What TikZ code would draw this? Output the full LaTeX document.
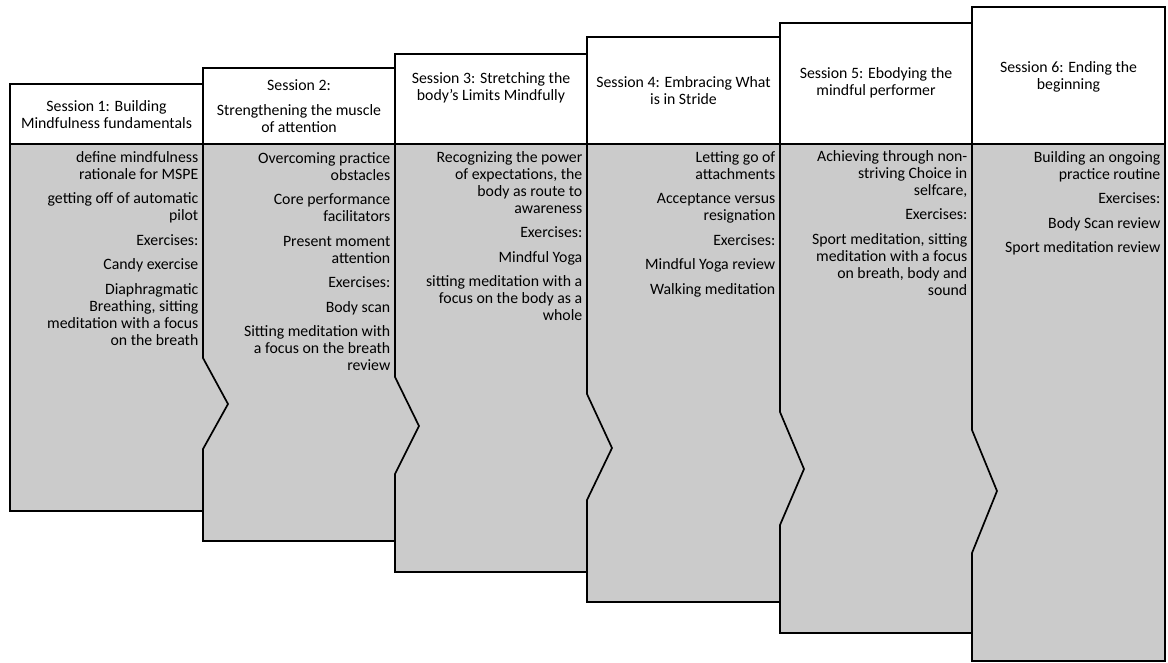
\documentclass[tikz,border=0pt]{standalone}
\usepackage{fontspec}
\setmainfont{Carlito}
\definecolor{bodygray}{RGB}{203,203,203}
\newcommand{\firstht}{\rule{0pt}{12pt}}
\begin{document}
\begin{tikzpicture}[x=1pt,y=-1pt,
  bodyshape/.style={fill=bodygray,draw=black,line width=1.7pt,line join=miter},
  hdrbox/.style={fill=white,draw=black,line width=2.3pt},
  hdrtext/.style={anchor=north,align=center,inner sep=0pt,font=\fontsize{15.8}{17}\selectfont},
  bodytext/.style={anchor=north east,align=right,inner sep=0pt,font=\fontsize{15.8}{17}\selectfont},
]
\useasboundingbox (0,0) rectangle (1168,662);
% bodies, drawn from last to first so that each tip lies on top
\path[bodyshape] (972,144) -- (1165,144) -- (1165,661) -- (972,661) -- cycle;
\path[bodyshape] (780,144) -- (972,144) -- (972,430) -- (997,491) -- (972,553) -- (972,633) -- (780,633) -- cycle;
\path[bodyshape] (587,144) -- (780,144) -- (780,412) -- (804,469) -- (780,525) -- (780,602) -- (587,602) -- cycle;
\path[bodyshape] (395,144) -- (587,144) -- (587,394) -- (612,448) -- (587,500) -- (587,572) -- (395,572) -- cycle;
\path[bodyshape] (203,144) -- (395,144) -- (395,377) -- (419,426) -- (395,474) -- (395,541) -- (203,541) -- cycle;
\path[bodyshape] (10,144) -- (203,144) -- (203,358) -- (228,404) -- (203,449) -- (203,511) -- (10,511) -- cycle;
% headers
\path[hdrbox] (10,84) rectangle (203,144);
\path[hdrbox] (203,68) rectangle (395,144);
\path[hdrbox] (395,54) rectangle (587,144);
\path[hdrbox] (587,37) rectangle (780,144);
\path[hdrbox] (780,23) rectangle (972,144);
\path[hdrbox] (972,7) rectangle (1165,144);
% header texts (first baseline = y + 12)
\node[hdrtext] (h1) at (106.5,99) {\firstht Session 1: Building\\Mindfulness fundamentals};
\node[hdrtext] (h2) at (299,78) {\firstht Session 2:\\[8pt]Strengthening the muscle\\of attention};
\node[hdrtext] (h3) at (491,71) {\firstht Session 3: Stretching the\\body’s Limits Mindfully};
\node[hdrtext] (h4) at (683.5,75) {\firstht Session 4: Embracing What\\is in Stride};
\node[hdrtext] (h5) at (876,66) {\firstht Session 5: Ebodying the\\mindful performer};
\node[hdrtext] (h6) at (1068.5,60) {\firstht Session 6: Ending the\\beginning};
% body texts (first baseline = y + 12)
\node[bodytext] (b1) at (198.5,150) {\firstht define mindfulness\\rationale for MSPE\\[7.5pt]getting off of automatic\\pilot\\[7.5pt]Exercises:\\[7.5pt]Candy exercise\\[7.5pt]Diaphragmatic\\Breathing, sitting\\meditation with a focus\\on the breath};
\node[bodytext] (b2) at (390.5,151) {\firstht Overcoming practice\\obstacles\\[7.5pt]Core performance\\facilitators\\[7.5pt]Present moment\\attention\\[7.5pt]Exercises:\\[7.5pt]Body scan\\[7.5pt]Sitting meditation with\\a focus on the breath\\review};
\node[bodytext] (b3) at (582.5,150) {\firstht Recognizing the power\\of expectations, the\\body as route to\\awareness\\[7.5pt]Exercises:\\[7.5pt]Mindful Yoga\\[7.5pt]sitting meditation with a\\focus on the body as a\\whole};
\node[bodytext] (b4) at (775.5,150) {\firstht Letting go of\\attachments\\[7.5pt]Acceptance versus\\resignation\\[7.5pt]Exercises:\\[7.5pt]Mindful Yoga review\\[7.5pt]Walking meditation};
\node[bodytext] (b5) at (967.5,149) {\firstht Achieving through non-\\striving Choice in\\selfcare,\\[7.5pt]Exercises:\\[7.5pt]Sport meditation, sitting\\meditation with a focus\\on breath, body and\\sound};
\node[bodytext] (b6) at (1160.5,150) {\firstht Building an ongoing\\practice routine\\[7.5pt]Exercises:\\[7.5pt]Body Scan review\\[7.5pt]Sport meditation review};
\end{tikzpicture}
\end{document}
